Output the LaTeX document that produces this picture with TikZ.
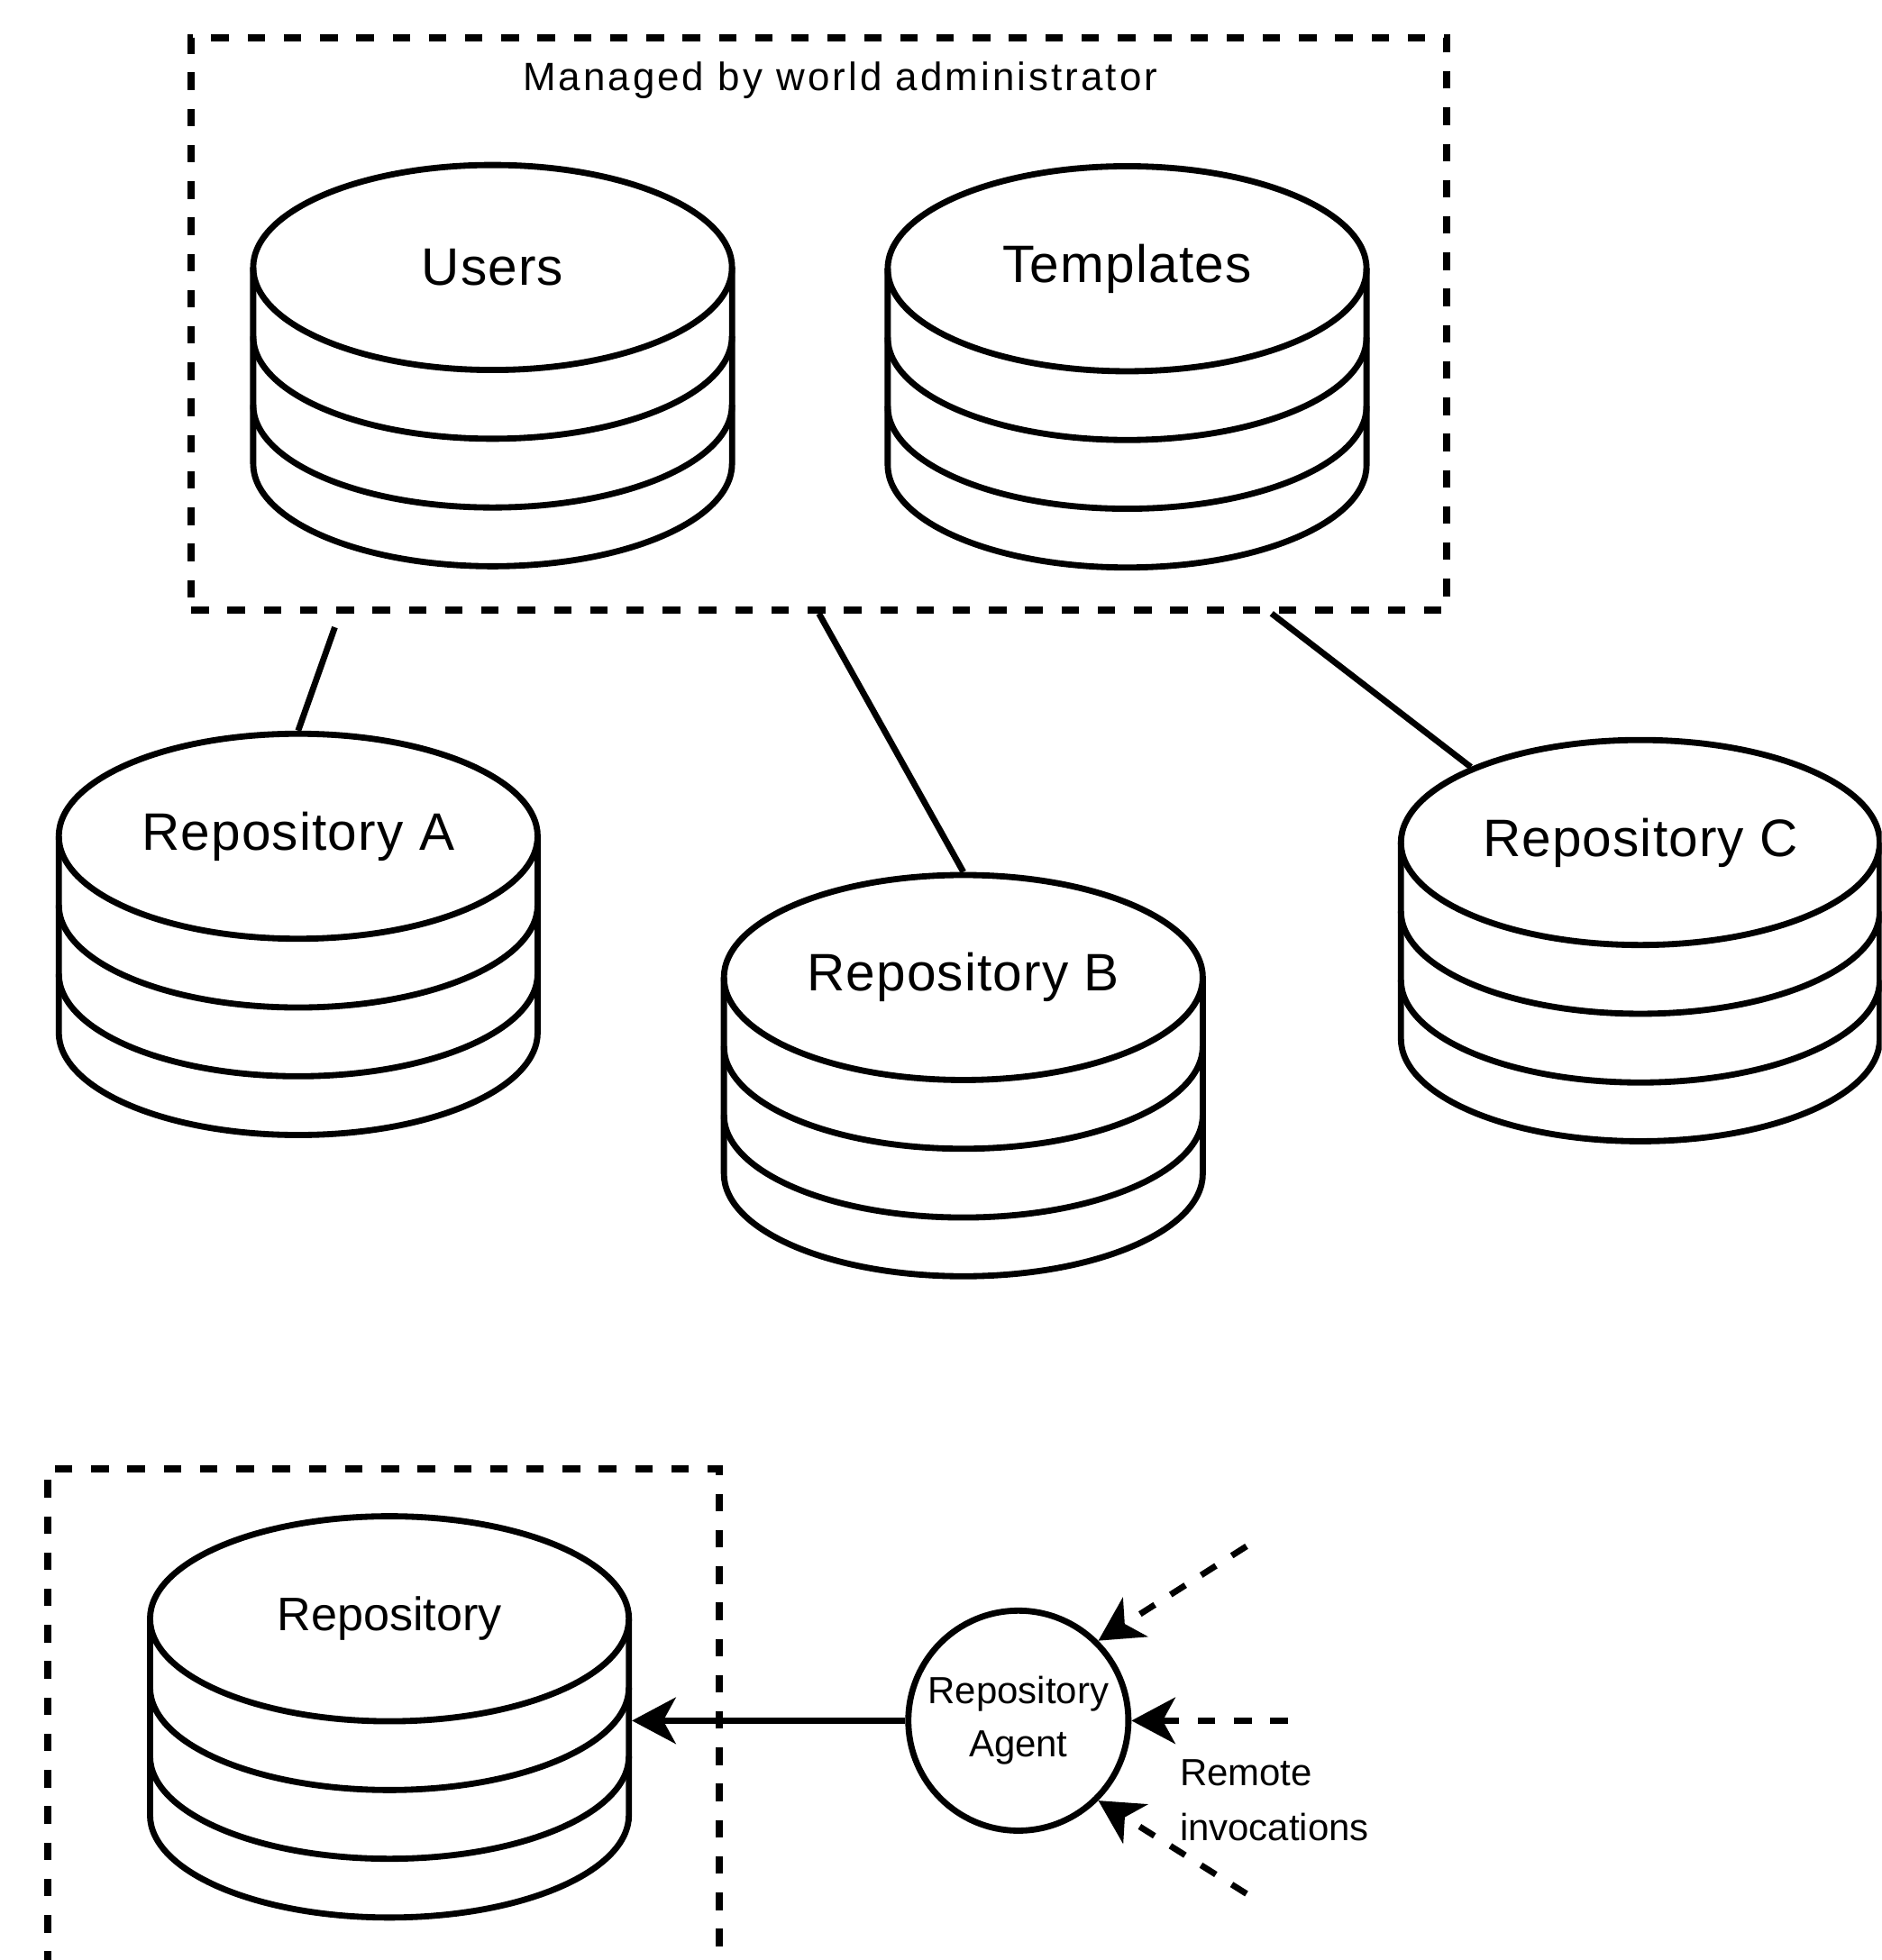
\documentclass[tikz,border=0pt]{standalone}
\usepackage{fontspec}
\setmainfont{Liberation Sans}
\newfontfamily\titlefont[LetterSpace=7]{Liberation Sans}
\newfontfamily\dbfont[LetterSpace=2]{Liberation Sans}
\usetikzlibrary{positioning, arrows.meta, calc, shapes.geometric}

\tikzset{
	dbline/.style={line width=1.4pt},
	groupbox/.style={draw=black, line width=1.6pt, dash pattern=on 1.4mm off 1.5mm, inner sep=0pt},
	dbtop/.style={ellipse, draw=black, dbline, minimum width=3.83cm, minimum height=1.64cm, inner sep=0pt, font=\dbfont\fontsize{12}{14}\selectfont},
	dbstack/.pic={
		\draw[dbline] (-1.915,0) -- (-1.915,-1.57) arc[start angle=180, end angle=360, x radius=1.915, y radius=0.82] -- (1.915,0);
		\foreach \d in {0.55,1.1}
			\draw[dbline] (-1.915,-\d) arc[start angle=180, end angle=360, x radius=1.915, y radius=0.82];
	},
	tip/.style={-{Stealth[length=3.5mm, width=3.7mm, inset=1mm]}},
	invoke/.style={dbline, tip, dash pattern=on 1.4mm off 1.5mm},
}

\begin{document}
\begin{tikzpicture}
	\useasboundingbox (0,0) rectangle (15.05,-15.68);
	\clip (0,0) rectangle (15.05,-15.68);

	% world administrator
	\node at (6.55,-2.59) [groupbox, minimum width=10.04cm, minimum height=4.58cm] (admin) {};
	\node at (6.72,-0.64) [font=\titlefont\fontsize{9}{11}\selectfont] (admintitle) {Managed by world administrator};

	\pic at (3.94,-2.14) {dbstack};
	\node at (3.94,-2.14) [dbtop] (users) {Users};
	\pic at (9.015,-2.15) {dbstack};
	\node at (9.015,-2.15) [dbtop] (templates) {Templates};

	% repositories
	\pic at (2.385,-6.69) {dbstack};
	\node at (2.385,-6.69) [dbtop] (repA) {Repository A};
	\pic at (7.705,-7.82) {dbstack};
	\node at (7.705,-7.82) [dbtop] (repB) {Repository B};
	\pic at (13.12,-6.74) {dbstack};
	\node at (13.12,-6.74) [dbtop] (repC) {Repository C};

	\draw[dbline] ($(admin.south west)!0.1165!(admin.south east) + (0,-0.11)$) -- (repA.north);
	\draw[dbline] (admin.south) -- (repB.north);
	\draw[dbline] ($(admin.south west)!0.8586!(admin.south east)$) -- (repC.156);

	% repository and its agent
	\node at (3.065,-13.875) [groupbox, minimum width=5.37cm, minimum height=4.25cm] (repobox) {};
	\pic at (3.115,-12.95) {dbstack};
	\node at (3.115,-12.95) [dbtop, font=\fontsize{10.7}{13}\selectfont] (repo) {Repository};

	\node at (8.145,-13.765) [shape=circle, draw=black, dbline, minimum size=1.76cm, inner sep=0pt, align=center, font=\fontsize{8.6}{12}\selectfont] (agent) {Repository\\Agent};
	\draw[dbline, tip] (agent.west) -- (agent.west -| repo.east);

	\coordinate (call1) at (9.97,-12.37);
	\coordinate (call2) at (10.30,-13.765);
	\coordinate (call3) at (9.97,-15.15);
	\draw[invoke] (call1) -- (agent.45);
	\draw[invoke] (call2) -- (agent.east);
	\draw[invoke] (call3) -- (agent.-45);
	\node at (9.43,-14.40) [anchor=west, align=left, inner sep=0pt, font=\fontsize{8.6}{12.5}\selectfont] (remote) {Remote\\invocations};
\end{tikzpicture}
\end{document}
